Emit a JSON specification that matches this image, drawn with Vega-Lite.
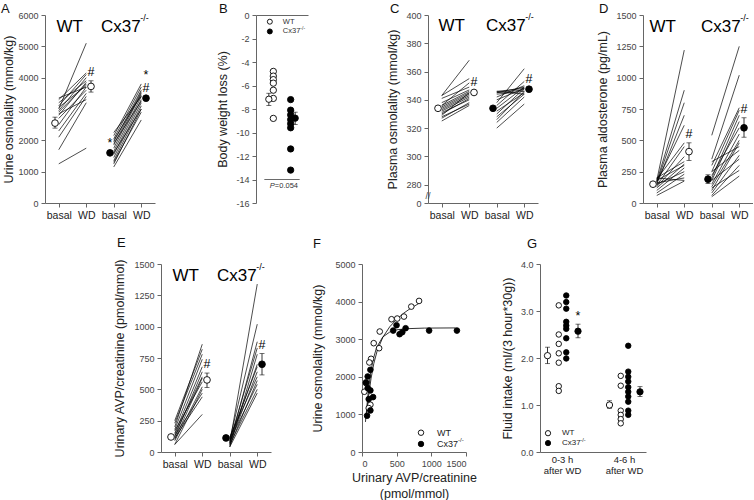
{
"$schema":"https://vega.github.io/schema/vega-lite/v6.json",
"padding":{"left":1,"top":3,"right":0,"bottom":0},
"config":{"font":"Liberation Sans","view":{"stroke":null},
"axis":{"grid":false,"domainColor":"#666","tickColor":"#666","labelColor":"#444","labelFontSize":9,"titleFontSize":12.5,"titleFontWeight":"normal","titleColor":"#222","tickSize":4,"labelPadding":3,"domainWidth":1,"tickWidth":1,"labelFont":"Liberation Sans","titleFont":"Liberation Sans","labelOverlap":false},
"title":{"fontSize":13,"fontWeight":"normal","anchor":"start","frame":"group","color":"#111","font":"Liberation Sans"},
"text":{"font":"Liberation Sans","color":"black"}},
"datasets":{
"A_lines":[{"g":"WT","b":1250,"w":1750},{"g":"WT","b":1700,"w":3200},{"g":"WT","b":2100,"w":3400},{"g":"WT","b":2300,"w":3500},{"g":"WT","b":2500,"w":3700},{"g":"WT","b":2700,"w":3600},{"g":"WT","b":2800,"w":3850},{"g":"WT","b":2900,"w":3800},{"g":"WT","b":3000,"w":5100},{"g":"WT","b":3050,"w":3750},{"g":"WT","b":3100,"w":4100},{"g":"WT","b":3200,"w":3900},{"g":"WT","b":3300,"w":4150},{"g":"WT","b":3350,"w":3700},{"g":"WT","b":2950,"w":4000},{"g":"WT","b":2850,"w":3300},
{"g":"Cx","b":1150,"w":2650},{"g":"Cx","b":1250,"w":3000},{"g":"Cx","b":1350,"w":3100},{"g":"Cx","b":1450,"w":3200},{"g":"Cx","b":1550,"w":3300},{"g":"Cx","b":1650,"w":3400},{"g":"Cx","b":1750,"w":3500},{"g":"Cx","b":1850,"w":3550},{"g":"Cx","b":1950,"w":3600},{"g":"Cx","b":2050,"w":3700},{"g":"Cx","b":2150,"w":3800},{"g":"Cx","b":2250,"w":3400},{"g":"Cx","b":1900,"w":3250},{"g":"Cx","b":1600,"w":3000},{"g":"Cx","b":1300,"w":2900},{"g":"Cx","b":2000,"w":3450}],
"A_means":[{"g":"WT","cond":"basal","cat":"WT basal","m":2550,"lo":2390,"hi":2740,"sig":"","sig2":""},{"g":"WT","cond":"WD","cat":"WT WD","m":3720,"lo":3540,"hi":3900,"sig":"#","sig2":""},{"g":"Cx","cond":"basal","cat":"Cx basal","m":1600,"lo":1570,"hi":1630,"sig":"*","sig2":""},{"g":"Cx","cond":"WD","cat":"Cx WD","m":3345,"lo":3300,"hi":3390,"sig":"#","sig2":"*"}],
"B_pts":[{"g":"WT","v":-4.8},{"g":"WT","v":-5.2},{"g":"WT","v":-5.5},{"g":"WT","v":-5.8},{"g":"WT","v":-6.4},{"g":"WT","v":-7.1},{"g":"WT","v":-8.8},{"g":"Cx","v":-7.2},{"g":"Cx","v":-8.1},{"g":"Cx","v":-8.5},{"g":"Cx","v":-8.9},{"g":"Cx","v":-9.25},{"g":"Cx","v":-9.6},{"g":"Cx","v":-11.4},{"g":"Cx","v":-13.2}],
"B_means":[{"g":"WT","m":-7.17,"lo":-7.7,"hi":-6.66},{"g":"Cx","m":-8.78,"lo":-9.32,"hi":-8.27}],
"C_lines":[{"g":"WT","b":343,"w":368},{"g":"WT","b":343,"w":355},{"g":"WT","b":341,"w":349},{"g":"WT","b":338,"w":347},{"g":"WT","b":336,"w":346},{"g":"WT","b":335,"w":345},{"g":"WT","b":334,"w":344},{"g":"WT","b":333,"w":343},{"g":"WT","b":332,"w":342},{"g":"WT","b":331,"w":340},{"g":"WT","b":330,"w":341},{"g":"WT","b":328,"w":337},{"g":"WT","b":327,"w":338},{"g":"WT","b":325,"w":336},{"g":"WT","b":336,"w":352},{"g":"WT","b":329,"w":345},
{"g":"Cx","b":346,"w":348},{"g":"Cx","b":345,"w":347},{"g":"Cx","b":345,"w":349},{"g":"Cx","b":344,"w":346},{"g":"Cx","b":342,"w":350},{"g":"Cx","b":340,"w":348},{"g":"Cx","b":338,"w":362},{"g":"Cx","b":336,"w":353},{"g":"Cx","b":334,"w":349},{"g":"Cx","b":332,"w":345},{"g":"Cx","b":330,"w":348},{"g":"Cx","b":328,"w":344},{"g":"Cx","b":326,"w":346},{"g":"Cx","b":324,"w":342},{"g":"Cx","b":320,"w":337},{"g":"Cx","b":346,"w":344}],
"C_means":[{"g":"WT","cond":"basal","cat":"WT basal","m":334,"lo":333.3,"hi":334.7,"sig":""},{"g":"WT","cond":"WD","cat":"WT WD","m":345.2,"lo":344,"hi":346.4,"sig":"#"},{"g":"Cx","cond":"basal","cat":"Cx basal","m":334,"lo":333.3,"hi":334.7,"sig":""},{"g":"Cx","cond":"WD","cat":"Cx WD","m":347.5,"lo":346.5,"hi":348.5,"sig":"#"}],
"D_lines":[{"g":"WT","b":180,"w":1220},{"g":"WT","b":170,"w":900},{"g":"WT","b":160,"w":800},{"g":"WT","b":150,"w":700},{"g":"WT","b":170,"w":620},{"g":"WT","b":190,"w":480},{"g":"WT","b":140,"w":450},{"g":"WT","b":200,"w":330},{"g":"WT","b":120,"w":310},{"g":"WT","b":180,"w":300},{"g":"WT","b":100,"w":280},{"g":"WT","b":150,"w":250},{"g":"WT","b":80,"w":230},{"g":"WT","b":160,"w":200},{"g":"WT","b":60,"w":175},{"g":"WT","b":200,"w":180},{"g":"WT","b":130,"w":370},
{"g":"Cx","b":540,"w":1250},{"g":"Cx","b":350,"w":1020},{"g":"Cx","b":300,"w":760},{"g":"Cx","b":250,"w":740},{"g":"Cx","b":200,"w":700},{"g":"Cx","b":180,"w":650},{"g":"Cx","b":150,"w":550},{"g":"Cx","b":130,"w":500},{"g":"Cx","b":100,"w":480},{"g":"Cx","b":330,"w":450},{"g":"Cx","b":250,"w":420},{"g":"Cx","b":80,"w":380},{"g":"Cx","b":180,"w":350},{"g":"Cx","b":60,"w":300},{"g":"Cx","b":120,"w":260},{"g":"Cx","b":50,"w":215},{"g":"Cx","b":220,"w":600}],
"D_means":[{"g":"WT","cond":"basal","cat":"WT basal","m":150,"lo":140,"hi":160,"sig":""},{"g":"WT","cond":"WD","cat":"WT WD","m":410,"lo":340,"hi":480,"sig":"#"},{"g":"Cx","cond":"basal","cat":"Cx basal","m":190,"lo":155,"hi":225,"sig":""},{"g":"Cx","cond":"WD","cat":"Cx WD","m":600,"lo":525,"hi":680,"sig":"#"}],
"E_lines":[{"g":"WT","b":200,"w":860},{"g":"WT","b":250,"w":820},{"g":"WT","b":230,"w":780},{"g":"WT","b":180,"w":740},{"g":"WT","b":150,"w":680},{"g":"WT","b":120,"w":640},{"g":"WT","b":100,"w":590},{"g":"WT","b":170,"w":560},{"g":"WT","b":90,"w":520},{"g":"WT","b":60,"w":500},{"g":"WT","b":130,"w":470},{"g":"WT","b":110,"w":440},{"g":"WT","b":60,"w":300},{"g":"WT","b":140,"w":600},
{"g":"Cx","b":70,"w":1340},{"g":"Cx","b":100,"w":1020},{"g":"Cx","b":60,"w":880},{"g":"Cx","b":90,"w":830},{"g":"Cx","b":40,"w":780},{"g":"Cx","b":80,"w":700},{"g":"Cx","b":110,"w":680},{"g":"Cx","b":70,"w":640},{"g":"Cx","b":120,"w":600},{"g":"Cx","b":50,"w":570},{"g":"Cx","b":90,"w":540},{"g":"Cx","b":60,"w":500},{"g":"Cx","b":40,"w":470}],
"E_means":[{"g":"WT","cond":"basal","cat":"WT basal","m":120,"lo":112,"hi":128,"sig":""},{"g":"WT","cond":"WD","cat":"WT WD","m":575,"lo":515,"hi":630,"sig":"#"},{"g":"Cx","cond":"basal","cat":"Cx basal","m":112,"lo":106,"hi":118,"sig":""},{"g":"Cx","cond":"WD","cat":"Cx WD","m":700,"lo":615,"hi":785,"sig":"#"}],
"F_fit":[{"g":"WT","avp":60,"osm":900},{"g":"WT","avp":80,"osm":1250},{"g":"WT","avp":100,"osm":1550},{"g":"WT","avp":130,"osm":1950},{"g":"WT","avp":170,"osm":2350},{"g":"WT","avp":220,"osm":2700},{"g":"WT","avp":300,"osm":3050},{"g":"WT","avp":400,"osm":3330},{"g":"WT","avp":500,"osm":3530},{"g":"WT","avp":600,"osm":3690},{"g":"WT","avp":700,"osm":3820},{"g":"WT","avp":820,"osm":3950},
{"g":"Cx","avp":50,"osm":800},{"g":"Cx","avp":70,"osm":1200},{"g":"Cx","avp":90,"osm":1600},{"g":"Cx","avp":120,"osm":2050},{"g":"Cx","avp":160,"osm":2450},{"g":"Cx","avp":210,"osm":2780},{"g":"Cx","avp":300,"osm":3060},{"g":"Cx","avp":400,"osm":3190},{"g":"Cx","avp":500,"osm":3250},{"g":"Cx","avp":650,"osm":3280},{"g":"Cx","avp":900,"osm":3295},{"g":"Cx","avp":1350,"osm":3300}],
"F_pts":[{"g":"WT","avp":823,"osm":4018},{"g":"WT","avp":711,"osm":3867},{"g":"WT","avp":605,"osm":3602},{"g":"WT","avp":508,"osm":3549},{"g":"WT","avp":426,"osm":3531},{"g":"WT","avp":256,"osm":3204},{"g":"WT","avp":169,"osm":2894},{"g":"WT","avp":247,"osm":2761},{"g":"WT","avp":131,"osm":2478},{"g":"WT","avp":106,"osm":2381},{"g":"WT","avp":58,"osm":1832},{"g":"WT","avp":34,"osm":1602},{"g":"WT","avp":121,"osm":1257},{"g":"WT","avp":97,"osm":1168},
{"g":"Cx","avp":1369,"osm":3230},{"g":"Cx","avp":968,"osm":3230},{"g":"Cx","avp":629,"osm":3292},{"g":"Cx","avp":581,"osm":3186},{"g":"Cx","avp":542,"osm":3133},{"g":"Cx","avp":450,"osm":3230},{"g":"Cx","avp":498,"osm":3372},{"g":"Cx","avp":121,"osm":2186},{"g":"Cx","avp":82,"osm":2009},{"g":"Cx","avp":58,"osm":1850},{"g":"Cx","avp":82,"osm":1699},{"g":"Cx","avp":121,"osm":1637},{"g":"Cx","avp":160,"osm":1460},{"g":"Cx","avp":97,"osm":1407},{"g":"Cx","avp":121,"osm":1106},{"g":"Cx","avp":73,"osm":965}],
"G_pts":[{"p":"0-3 h","g":"WT","v":3.12},{"p":"0-3 h","g":"WT","v":2.5},{"p":"0-3 h","g":"WT","v":2.3},{"p":"0-3 h","g":"WT","v":2.1},{"p":"0-3 h","g":"WT","v":1.9},{"p":"0-3 h","g":"WT","v":1.4},{"p":"0-3 h","g":"WT","v":1.3},
{"p":"0-3 h","g":"Cx","v":3.33},{"p":"0-3 h","g":"Cx","v":3.19},{"p":"0-3 h","g":"Cx","v":3.05},{"p":"0-3 h","g":"Cx","v":2.77},{"p":"0-3 h","g":"Cx","v":2.69},{"p":"0-3 h","g":"Cx","v":2.62},{"p":"0-3 h","g":"Cx","v":2.42},{"p":"0-3 h","g":"Cx","v":2.12},{"p":"0-3 h","g":"Cx","v":1.99},
{"p":"4-6 h","g":"WT","v":1.62},{"p":"4-6 h","g":"WT","v":1.41},{"p":"4-6 h","g":"WT","v":0.88},{"p":"4-6 h","g":"WT","v":0.79},{"p":"4-6 h","g":"WT","v":0.7},{"p":"4-6 h","g":"WT","v":0.61},
{"p":"4-6 h","g":"Cx","v":2.26},{"p":"4-6 h","g":"Cx","v":1.71},{"p":"4-6 h","g":"Cx","v":1.6},{"p":"4-6 h","g":"Cx","v":1.5},{"p":"4-6 h","g":"Cx","v":1.38},{"p":"4-6 h","g":"Cx","v":1.28},{"p":"4-6 h","g":"Cx","v":1.18},{"p":"4-6 h","g":"Cx","v":1.07},{"p":"4-6 h","g":"Cx","v":0.88},{"p":"4-6 h","g":"Cx","v":0.79}],
"G_means":[{"p":"0-3 h","g":"WT","m":2.05,"lo":1.88,"hi":2.23,"sig":""},{"p":"0-3 h","g":"Cx","m":2.57,"lo":2.43,"hi":2.72,"sig":"*"},{"p":"4-6 h","g":"WT","m":1.0,"lo":0.93,"hi":1.09,"sig":""},{"p":"4-6 h","g":"Cx","m":1.28,"lo":1.18,"hi":1.39,"sig":""}]
},
"bounds":"flush","spacing":249,
"resolve":{"scale":{"xOffset":"independent"}},
"vconcat":[
{"bounds":"flush","spacing":101,"resolve":{"scale":{"xOffset":"independent"}},"hconcat":[
{"width":110,"height":188,"title":{"text":"A","dx":-44,"offset":-5},
"layer":[
{"data":{"name":"A_lines"},"transform":[{"filter":"datum.g=='WT'"}],"mark":{"type":"rule","color":"black","strokeWidth":0.7},
"encoding":{"x":{"datum":"WT basal","type":"nominal","scale":{"type":"point","domain":["WT basal","WT WD","Cx basal","Cx WD"],"padding":0.5},"axis":{"title":null,"labelExpr":"split(datum.value,' ')[1]","labelAngle":0,"labelFontSize":10.5,"labelColor":"#222"}},
"x2":{"datum":"WT WD"},
"y":{"field":"b","type":"quantitative","scale":{"domain":[0,6000],"nice":false},"axis":{"title":"Urine osmolality (mmol/kg)","values":[0,1000,2000,3000,4000,5000,6000],"tickCount":20,"format":"d","titlePadding":2.5}},
"y2":{"field":"w"}}},
{"data":{"name":"A_lines"},"transform":[{"filter":"datum.g=='Cx'"}],"mark":{"type":"rule","color":"black","strokeWidth":0.7},
"encoding":{"x":{"datum":"Cx basal","type":"nominal"},"x2":{"datum":"Cx WD"},"y":{"field":"b","type":"quantitative"},"y2":{"field":"w"}}},
{"data":{"name":"A_means"},"encoding":{"x":{"field":"cat","type":"nominal"},"xOffset":{"field":"cond","type":"nominal","scale":{"type":"point","domain":["basal","WD"],"range":[-8,9]}}},
"layer":[
{"mark":{"type":"rule","color":"black","strokeWidth":0.8},"encoding":{"y":{"field":"lo","type":"quantitative"},"y2":{"field":"hi"}}},
{"mark":{"type":"tick","color":"black","thickness":0.8,"size":5},"encoding":{"y":{"field":"lo","type":"quantitative"}}},
{"mark":{"type":"tick","color":"black","thickness":0.8,"size":5},"encoding":{"y":{"field":"hi","type":"quantitative"}}},
{"mark":{"type":"circle","size":45,"stroke":"black","strokeWidth":0.9,"opacity":1},"encoding":{"y":{"field":"m","type":"quantitative"},"fill":{"field":"g","type":"nominal","scale":{"domain":["WT","Cx"],"range":["white","black"]},"legend":null}}},
{"mark":{"type":"text","dy":-9,"fontSize":12.5,"baseline":"middle"},"encoding":{"y":{"field":"hi","type":"quantitative"},"text":{"field":"sig","type":"nominal"}}},
{"mark":{"type":"text","dy":-22,"fontSize":12.5,"baseline":"middle"},"encoding":{"y":{"field":"hi","type":"quantitative"},"text":{"field":"sig2","type":"nominal"}}}
]},
{"data":{"values":[{}]},"mark":{"type":"text","text":"WT","fontSize":17,"dx":11,"baseline":"alphabetic"},"encoding":{"x":{"datum":"WT basal","type":"nominal"},"y":{"datum":5455,"type":"quantitative"}}},
{"data":{"values":[{}]},"mark":{"type":"text","text":"Cx37","fontSize":17,"dx":7,"baseline":"alphabetic"},"encoding":{"x":{"datum":"Cx basal","type":"nominal"},"y":{"datum":5455,"type":"quantitative"}}},
{"data":{"values":[{}]},"mark":{"type":"text","text":"-/-","fontSize":9,"dx":26.5,"dy":-11,"align":"left","baseline":"alphabetic"},"encoding":{"x":{"datum":"Cx basal","type":"nominal"},"y":{"datum":5455,"type":"quantitative"}}}
]},
{"bounds":"flush","spacing":120,"resolve":{"scale":{"xOffset":"independent"}},"hconcat":[
{"width":52,"height":188,"title":{"text":"B","dx":-37,"offset":-5},
"layer":[
{"data":{"name":"B_pts"},"mark":{"type":"circle","size":40,"stroke":"black","strokeWidth":0.9,"opacity":1},
"encoding":{"x":{"field":"g","type":"nominal","scale":{"type":"point","domain":["WT","Cx"],"padding":1.03},"axis":{"orient":"top","labels":false,"ticks":false,"title":null}},
"y":{"field":"v","type":"quantitative","scale":{"domain":[-16,0],"nice":false},"axis":{"title":"Body weight loss (%)","values":[-16,-14,-12,-10,-8,-6,-4,-2,0],"tickCount":20,"labelExpr":"''+datum.value","titlePadding":6.5}},
"fill":{"field":"g","type":"nominal","scale":{"domain":["WT","Cx"],"range":["white","black"]},"legend":null}}},
{"data":{"name":"B_means"},"encoding":{"x":{"field":"g","type":"nominal"},"xOffset":{"field":"g","type":"nominal","scale":{"type":"point","domain":["WT","Cx"],"range":[-9,9]}}},
"layer":[
{"mark":{"type":"rule","color":"black","strokeWidth":0.8},"encoding":{"y":{"field":"lo","type":"quantitative"},"y2":{"field":"hi"}}},
{"mark":{"type":"tick","color":"black","thickness":0.8,"size":5},"encoding":{"y":{"field":"lo","type":"quantitative"}}},
{"mark":{"type":"tick","color":"black","thickness":0.8,"size":5},"encoding":{"y":{"field":"hi","type":"quantitative"}}},
{"mark":{"type":"circle","size":40,"stroke":"black","strokeWidth":0.9,"opacity":1},"encoding":{"y":{"field":"m","type":"quantitative"},"fill":{"field":"g","type":"nominal","scale":{"domain":["WT","Cx"],"range":["white","black"]},"legend":null}}}
]},
{"data":{"values":[{}]},"mark":{"type":"rule","color":"#444","strokeWidth":0.8,"xOffset":-9,"x2Offset":9},"encoding":{"x":{"datum":"WT","type":"nominal"},"x2":{"datum":"Cx"},"y":{"datum":-14,"type":"quantitative"}}},
{"data":{"values":[{}]},"mark":{"type":"text","text":"P","fontSize":7.5,"fontStyle":"italic","align":"left","baseline":"top","dx":-3.5,"dy":2.5,"color":"#333"},"encoding":{"x":{"datum":"WT","type":"nominal"},"y":{"datum":-14,"type":"quantitative"}}},
{"data":{"values":[{}]},"mark":{"type":"text","text":"=0.054","fontSize":7.5,"align":"left","baseline":"top","dx":1.5,"dy":2.5,"color":"#333"},"encoding":{"x":{"datum":"WT","type":"nominal"},"y":{"datum":-14,"type":"quantitative"}}},
{"data":{"values":[{}]},"mark":{"type":"circle","size":25,"stroke":"black","strokeWidth":0.9,"fill":"white","opacity":1,"xOffset":-3.5},"encoding":{"x":{"datum":"WT","type":"nominal"},"y":{"datum":-0.57,"type":"quantitative"}}},
{"data":{"values":[{}]},"mark":{"type":"circle","size":25,"stroke":"black","strokeWidth":0.9,"fill":"black","opacity":1,"xOffset":-3.5},"encoding":{"x":{"datum":"WT","type":"nominal"},"y":{"datum":-1.4,"type":"quantitative"}}},
{"data":{"values":[{}]},"mark":{"type":"text","text":"WT","fontSize":7.5,"align":"left","baseline":"middle","dx":9.5,"color":"#333"},"encoding":{"x":{"datum":"WT","type":"nominal"},"y":{"datum":-0.57,"type":"quantitative"}}},
{"data":{"values":[{}]},"mark":{"type":"text","text":"Cx37","fontSize":7.5,"align":"left","baseline":"middle","dx":9.5,"color":"#333"},"encoding":{"x":{"datum":"WT","type":"nominal"},"y":{"datum":-1.4,"type":"quantitative"}}},
{"data":{"values":[{}]},"mark":{"type":"text","text":"-/-","fontSize":5,"align":"left","baseline":"middle","dx":27,"dy":-3,"color":"#333"},"encoding":{"x":{"datum":"WT","type":"nominal"},"y":{"datum":-1.4,"type":"quantitative"}}}
]},
{"bounds":"flush","spacing":105,"resolve":{"scale":{"xOffset":"independent"}},"hconcat":[
{"width":110,"height":188,"title":{"text":"C","dx":-38,"offset":-5},
"layer":[
{"data":{"name":"C_lines"},"transform":[{"filter":"datum.g=='WT'"}],"mark":{"type":"rule","color":"black","strokeWidth":0.7},
"encoding":{"x":{"datum":"WT basal","type":"nominal","scale":{"type":"point","domain":["WT basal","WT WD","Cx basal","Cx WD"],"padding":0.5},"axis":{"title":null,"labelExpr":"split(datum.value,' ')[1]","labelAngle":0,"labelFontSize":10.5,"labelColor":"#222"}},
"x2":{"datum":"WT WD"},
"y":{"field":"b","type":"quantitative","scale":{"domain":[267,400],"nice":false,"zero":false},"axis":{"title":"Plasma osmolality (mmol/kg)","values":[267,280,300,320,340,360,380,400],"tickCount":20,"labelExpr":"datum.value < 270 ? '0' : datum.label","titlePadding":6.5}},
"y2":{"field":"w"}}},
{"data":{"name":"C_lines"},"transform":[{"filter":"datum.g=='Cx'"}],"mark":{"type":"rule","color":"black","strokeWidth":0.7},
"encoding":{"x":{"datum":"Cx basal","type":"nominal"},"x2":{"datum":"Cx WD"},"y":{"field":"b","type":"quantitative"},"y2":{"field":"w"}}},
{"data":{"name":"C_means"},"encoding":{"x":{"field":"cat","type":"nominal"},"xOffset":{"field":"cond","type":"nominal","scale":{"type":"point","domain":["basal","WD"],"range":[-8,9]}}},
"layer":[
{"mark":{"type":"rule","color":"black","strokeWidth":0.8},"encoding":{"y":{"field":"lo","type":"quantitative"},"y2":{"field":"hi"}}},
{"mark":{"type":"circle","size":45,"stroke":"black","strokeWidth":0.9,"opacity":1},"encoding":{"y":{"field":"m","type":"quantitative"},"fill":{"field":"g","type":"nominal","scale":{"domain":["WT","Cx"],"range":["white","black"]},"legend":null}}},
{"mark":{"type":"text","dy":-9,"fontSize":12.5,"baseline":"middle"},"encoding":{"y":{"field":"hi","type":"quantitative"},"text":{"field":"sig","type":"nominal"}}}
]},
{"data":{"values":[{}]},"mark":{"type":"text","text":"//","fontSize":9,"dx":-13.75,"baseline":"middle","color":"#444"},"encoding":{"x":{"datum":"WT basal","type":"nominal"},"y":{"datum":272,"type":"quantitative"}}},
{"data":{"values":[{}]},"mark":{"type":"text","text":"WT","fontSize":17,"dx":10,"baseline":"alphabetic"},"encoding":{"x":{"datum":"WT basal","type":"nominal"},"y":{"datum":388.7,"type":"quantitative"}}},
{"data":{"values":[{}]},"mark":{"type":"text","text":"Cx37","fontSize":17,"dx":9,"baseline":"alphabetic"},"encoding":{"x":{"datum":"Cx basal","type":"nominal"},"y":{"datum":388.7,"type":"quantitative"}}},
{"data":{"values":[{}]},"mark":{"type":"text","text":"-/-","fontSize":9,"dx":28.5,"dy":-11,"align":"left","baseline":"alphabetic"},"encoding":{"x":{"datum":"Cx basal","type":"nominal"},"y":{"datum":388.7,"type":"quantitative"}}}
]},
{"width":110,"height":188,"title":{"text":"D","dx":-44,"offset":-5},
"layer":[
{"data":{"name":"D_lines"},"transform":[{"filter":"datum.g=='WT'"}],"mark":{"type":"rule","color":"black","strokeWidth":0.7},
"encoding":{"x":{"datum":"WT basal","type":"nominal","scale":{"type":"point","domain":["WT basal","WT WD","Cx basal","Cx WD"],"padding":0.5},"axis":{"title":null,"labelExpr":"split(datum.value,' ')[1]","labelAngle":0,"labelFontSize":10.5,"labelColor":"#222"}},
"x2":{"datum":"WT WD"},
"y":{"field":"b","type":"quantitative","scale":{"domain":[0,1500],"nice":false},"axis":{"title":"Plasma aldosterone (pg/mL)","values":[0,250,500,750,1000,1250,1500],"tickCount":20,"format":"d","titlePadding":6.5}},
"y2":{"field":"w"}}},
{"data":{"name":"D_lines"},"transform":[{"filter":"datum.g=='Cx'"}],"mark":{"type":"rule","color":"black","strokeWidth":0.7},
"encoding":{"x":{"datum":"Cx basal","type":"nominal"},"x2":{"datum":"Cx WD"},"y":{"field":"b","type":"quantitative"},"y2":{"field":"w"}}},
{"data":{"name":"D_means"},"encoding":{"x":{"field":"cat","type":"nominal"},"xOffset":{"field":"cond","type":"nominal","scale":{"type":"point","domain":["basal","WD"],"range":[-8,9]}}},
"layer":[
{"mark":{"type":"rule","color":"black","strokeWidth":0.8},"encoding":{"y":{"field":"lo","type":"quantitative"},"y2":{"field":"hi"}}},
{"mark":{"type":"tick","color":"black","thickness":0.8,"size":5},"encoding":{"y":{"field":"lo","type":"quantitative"}}},
{"mark":{"type":"tick","color":"black","thickness":0.8,"size":5},"encoding":{"y":{"field":"hi","type":"quantitative"}}},
{"mark":{"type":"circle","size":45,"stroke":"black","strokeWidth":0.9,"opacity":1},"encoding":{"y":{"field":"m","type":"quantitative"},"fill":{"field":"g","type":"nominal","scale":{"domain":["WT","Cx"],"range":["white","black"]},"legend":null}}},
{"mark":{"type":"text","dy":-9,"fontSize":12.5,"baseline":"middle"},"encoding":{"y":{"field":"hi","type":"quantitative"},"text":{"field":"sig","type":"nominal"}}}
]},
{"data":{"values":[{}]},"mark":{"type":"text","text":"WT","fontSize":17,"dx":6,"baseline":"alphabetic"},"encoding":{"x":{"datum":"WT basal","type":"nominal"},"y":{"datum":1367,"type":"quantitative"}}},
{"data":{"values":[{}]},"mark":{"type":"text","text":"Cx37","fontSize":17,"dx":9,"baseline":"alphabetic"},"encoding":{"x":{"datum":"Cx basal","type":"nominal"},"y":{"datum":1367,"type":"quantitative"}}},
{"data":{"values":[{}]},"mark":{"type":"text","text":"-/-","fontSize":9,"dx":28.5,"dy":-11,"align":"left","baseline":"alphabetic"},"encoding":{"x":{"datum":"Cx basal","type":"nominal"},"y":{"datum":1367,"type":"quantitative"}}}
]}
]}
]}
]},
{"bounds":"flush","spacing":0,"resolve":{"scale":{"xOffset":"independent"}},"hconcat":[
{"width":116,"height":188,"data":{"values":[]},"mark":"point"},
{"bounds":"flush","spacing":91,"resolve":{"scale":{"xOffset":"independent"}},"hconcat":[
{"width":110,"height":188,"title":{"text":"E","dx":-44,"offset":9},
"layer":[
{"data":{"name":"E_lines"},"transform":[{"filter":"datum.g=='WT'"}],"mark":{"type":"rule","color":"black","strokeWidth":0.7},
"encoding":{"x":{"datum":"WT basal","type":"nominal","scale":{"type":"point","domain":["WT basal","WT WD","Cx basal","Cx WD"],"padding":0.5},"axis":{"title":null,"labelExpr":"split(datum.value,' ')[1]","labelAngle":0,"labelFontSize":10.5,"labelColor":"#222"}},
"x2":{"datum":"WT WD"},
"y":{"field":"b","type":"quantitative","scale":{"domain":[0,1500],"nice":false},"axis":{"title":"Urinary AVP/creatinine (pmol/mmol)","values":[0,250,500,750,1000,1250,1500],"tickCount":20,"format":"d","titlePadding":7.5}},
"y2":{"field":"w"}}},
{"data":{"name":"E_lines"},"transform":[{"filter":"datum.g=='Cx'"}],"mark":{"type":"rule","color":"black","strokeWidth":0.7},
"encoding":{"x":{"datum":"Cx basal","type":"nominal"},"x2":{"datum":"Cx WD"},"y":{"field":"b","type":"quantitative"},"y2":{"field":"w"}}},
{"data":{"name":"E_means"},"encoding":{"x":{"field":"cat","type":"nominal"},"xOffset":{"field":"cond","type":"nominal","scale":{"type":"point","domain":["basal","WD"],"range":[-8,9]}}},
"layer":[
{"mark":{"type":"rule","color":"black","strokeWidth":0.8},"encoding":{"y":{"field":"lo","type":"quantitative"},"y2":{"field":"hi"}}},
{"mark":{"type":"tick","color":"black","thickness":0.8,"size":5},"encoding":{"y":{"field":"lo","type":"quantitative"}}},
{"mark":{"type":"tick","color":"black","thickness":0.8,"size":5},"encoding":{"y":{"field":"hi","type":"quantitative"}}},
{"mark":{"type":"circle","size":45,"stroke":"black","strokeWidth":0.9,"opacity":1},"encoding":{"y":{"field":"m","type":"quantitative"},"fill":{"field":"g","type":"nominal","scale":{"domain":["WT","Cx"],"range":["white","black"]},"legend":null}}},
{"mark":{"type":"text","dy":-9,"fontSize":12.5,"baseline":"middle"},"encoding":{"y":{"field":"hi","type":"quantitative"},"text":{"field":"sig","type":"nominal"}}}
]},
{"data":{"values":[{}]},"mark":{"type":"text","text":"WT","fontSize":17,"dx":11,"baseline":"alphabetic"},"encoding":{"x":{"datum":"WT basal","type":"nominal"},"y":{"datum":1367,"type":"quantitative"}}},
{"data":{"values":[{}]},"mark":{"type":"text","text":"Cx37","fontSize":17,"dx":7,"baseline":"alphabetic"},"encoding":{"x":{"datum":"Cx basal","type":"nominal"},"y":{"datum":1367,"type":"quantitative"}}},
{"data":{"values":[{}]},"mark":{"type":"text","text":"-/-","fontSize":9,"dx":26.5,"dy":-11,"align":"left","baseline":"alphabetic"},"encoding":{"x":{"datum":"Cx basal","type":"nominal"},"y":{"datum":1367,"type":"quantitative"}}}
]},
{"bounds":"flush","spacing":74,"resolve":{"scale":{"xOffset":"independent"}},"hconcat":[
{"width":104,"height":188,"title":{"text":"F","dx":-49,"offset":9},
"layer":[
{"data":{"name":"F_fit"},"mark":{"type":"line","color":"black","strokeWidth":0.8},
"encoding":{"x":{"field":"avp","type":"quantitative","scale":{"domain":[0,1500],"nice":false},"axis":{"values":[0,500,1000,1500],"tickCount":20,"format":"d","title":["Urinary AVP/creatinine","(pmol/mmol)"],"titlePadding":3,"titleLineHeight":16}},
"y":{"field":"osm","type":"quantitative","scale":{"domain":[0,5000],"nice":false},"axis":{"values":[0,1000,2000,3000,4000,5000],"tickCount":20,"format":"d","title":"Urine osmolality (mmol/kg)","titlePadding":10.5}},
"detail":{"field":"g","type":"nominal"}}},
{"data":{"name":"F_pts"},"mark":{"type":"circle","size":32,"stroke":"black","strokeWidth":0.9,"opacity":1},
"encoding":{"x":{"field":"avp","type":"quantitative"},"y":{"field":"osm","type":"quantitative"},"fill":{"field":"g","type":"nominal","scale":{"domain":["WT","Cx"],"range":["white","black"]},"legend":null}}},
{"data":{"values":[{}]},"mark":{"type":"circle","size":30,"stroke":"black","strokeWidth":0.9,"fill":"white","opacity":1},"encoding":{"x":{"datum":851,"type":"quantitative"},"y":{"datum":513,"type":"quantitative"}}},
{"data":{"values":[{}]},"mark":{"type":"circle","size":30,"stroke":"black","strokeWidth":0.9,"fill":"black","opacity":1},"encoding":{"x":{"datum":851,"type":"quantitative"},"y":{"datum":213,"type":"quantitative"}}},
{"data":{"values":[{}]},"mark":{"type":"text","text":"WT","fontSize":9,"align":"left","baseline":"middle","color":"#222"},"encoding":{"x":{"datum":1082,"type":"quantitative"},"y":{"datum":513,"type":"quantitative"}}},
{"data":{"values":[{}]},"mark":{"type":"text","text":"Cx37","fontSize":9,"align":"left","baseline":"middle","color":"#222"},"encoding":{"x":{"datum":1082,"type":"quantitative"},"y":{"datum":213,"type":"quantitative"}}},
{"data":{"values":[{}]},"mark":{"type":"text","text":"-/-","fontSize":6,"align":"left","baseline":"middle","dx":21,"dy":-4,"color":"#222"},"encoding":{"x":{"datum":1082,"type":"quantitative"},"y":{"datum":213,"type":"quantitative"}}}
]},
{"width":106,"height":188,"title":{"text":"G","dx":-13,"offset":9},
"layer":[
{"data":{"name":"G_pts"},"mark":{"type":"circle","size":30,"stroke":"black","strokeWidth":0.9,"opacity":1},
"encoding":{"x":{"field":"p","type":"nominal","scale":{"type":"point","domain":["0-3 h","4-6 h"],"padding":0.355},"axis":{"title":null,"ticks":false,"tickSize":0,"labelAngle":0,"labelExpr":"[datum.value,'after WD']","labelFontSize":9.5,"labelPadding":2,"labelLineHeight":11,"labelColor":"#222"}},
"xOffset":{"field":"g","type":"nominal","scale":{"type":"point","domain":["WT","Cx"],"range":[-7,8]}},
"y":{"field":"v","type":"quantitative","scale":{"domain":[0,4],"nice":false},"axis":{"values":[0,1,2,3,4],"tickCount":20,"title":"Fluid intake (ml/(3 hour*30g))","titlePadding":5.5}},
"fill":{"field":"g","type":"nominal","scale":{"domain":["WT","Cx"],"range":["white","black"]},"legend":null}}},
{"data":{"name":"G_means"},"transform":[{"filter":"datum.g=='WT'"}],"encoding":{"x":{"field":"p","type":"nominal"}},
"layer":[
{"mark":{"type":"rule","color":"black","strokeWidth":0.8,"xOffset":-14.5},"encoding":{"y":{"field":"lo","type":"quantitative"},"y2":{"field":"hi"}}},
{"mark":{"type":"tick","color":"black","thickness":0.8,"size":5,"xOffset":-14.5},"encoding":{"y":{"field":"lo","type":"quantitative"}}},
{"mark":{"type":"tick","color":"black","thickness":0.8,"size":5,"xOffset":-14.5},"encoding":{"y":{"field":"hi","type":"quantitative"}}},
{"mark":{"type":"circle","size":40,"stroke":"black","strokeWidth":0.9,"opacity":1,"xOffset":-14.5},"encoding":{"y":{"field":"m","type":"quantitative"},"fill":{"field":"g","type":"nominal","scale":{"domain":["WT","Cx"],"range":["white","black"]},"legend":null}}}
]},
{"data":{"name":"G_means"},"transform":[{"filter":"datum.g=='Cx'"}],"encoding":{"x":{"field":"p","type":"nominal"}},
"layer":[
{"mark":{"type":"rule","color":"black","strokeWidth":0.8,"xOffset":16},"encoding":{"y":{"field":"lo","type":"quantitative"},"y2":{"field":"hi"}}},
{"mark":{"type":"tick","color":"black","thickness":0.8,"size":5,"xOffset":16},"encoding":{"y":{"field":"lo","type":"quantitative"}}},
{"mark":{"type":"tick","color":"black","thickness":0.8,"size":5,"xOffset":16},"encoding":{"y":{"field":"hi","type":"quantitative"}}},
{"mark":{"type":"circle","size":40,"stroke":"black","strokeWidth":0.9,"opacity":1,"xOffset":16},"encoding":{"y":{"field":"m","type":"quantitative"},"fill":{"field":"g","type":"nominal","scale":{"domain":["WT","Cx"],"range":["white","black"]},"legend":null}}},
{"mark":{"type":"text","dy":-8,"dx":16,"fontSize":12.5,"baseline":"middle"},"encoding":{"y":{"field":"hi","type":"quantitative"},"text":{"field":"sig","type":"nominal"}}}
]},
{"data":{"values":[{}]},"mark":{"type":"circle","size":28,"stroke":"black","strokeWidth":0.9,"fill":"white","opacity":1,"xOffset":-14},"encoding":{"x":{"datum":"0-3 h","type":"nominal"},"y":{"datum":0.4,"type":"quantitative"}}},
{"data":{"values":[{}]},"mark":{"type":"circle","size":28,"stroke":"black","strokeWidth":0.9,"fill":"black","opacity":1,"xOffset":-14},"encoding":{"x":{"datum":"0-3 h","type":"nominal"},"y":{"datum":0.19,"type":"quantitative"}}},
{"data":{"values":[{}]},"mark":{"type":"text","text":"WT","fontSize":8,"align":"left","baseline":"middle","color":"#222"},"encoding":{"x":{"datum":"0-3 h","type":"nominal"},"y":{"datum":0.4,"type":"quantitative"}}},
{"data":{"values":[{}]},"mark":{"type":"text","text":"Cx37","fontSize":8,"align":"left","baseline":"middle","color":"#222"},"encoding":{"x":{"datum":"0-3 h","type":"nominal"},"y":{"datum":0.19,"type":"quantitative"}}},
{"data":{"values":[{}]},"mark":{"type":"text","text":"-/-","fontSize":5.5,"align":"left","baseline":"middle","dx":18.5,"dy":-3,"color":"#222"},"encoding":{"x":{"datum":"0-3 h","type":"nominal"},"y":{"datum":0.19,"type":"quantitative"}}}
]}
]}
]}
]}
]
}
